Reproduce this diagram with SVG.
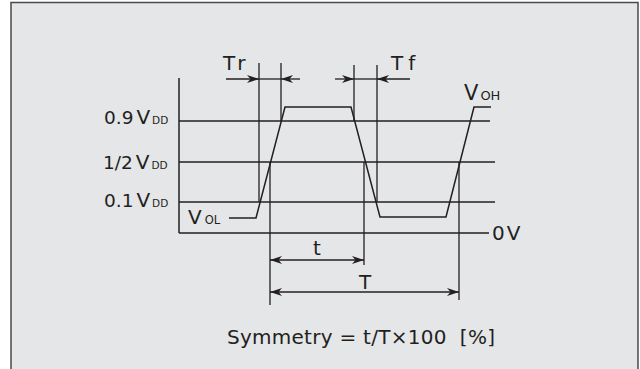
<svg xmlns="http://www.w3.org/2000/svg" width="640" height="369" viewBox="0 0 640 369">
<style>
.ln{stroke:#231f20;stroke-width:1.3;fill:none}
.ax{stroke:#231f20;stroke-width:1.5;fill:none}
.tx{font-family:"DejaVu Sans","Liberation Sans",sans-serif;fill:#231f20}
.big{font-size:20px}
.sub{font-size:10.5px}
</style>
<defs>
<marker id="ah" viewBox="0 0 12 8" refX="12" refY="4" markerWidth="12" markerHeight="8" markerUnits="userSpaceOnUse" orient="auto-start-reverse">
<path d="M0,0 L12,4 L0,8 L3.5,4 z" fill="#231f20"/>
</marker>
</defs>
<rect x="0" y="0" width="640" height="369" fill="#ffffff"/>
<rect x="11" y="2.5" width="627" height="380" fill="#e5e6e8" stroke="#4a4a4a" stroke-width="1.5"/>

<g id="axes">
<line class="ax" x1="179" y1="78" x2="179" y2="233"/>
<line class="ln" x1="179" y1="233" x2="489" y2="233"/>
<line class="ln" x1="179" y1="121" x2="490" y2="121"/>
<line class="ln" x1="179" y1="162" x2="495" y2="162"/>
<line class="ln" x1="179" y1="202" x2="495" y2="202"/>
</g>

<g id="waveform">
<polyline class="ax" points="229,218 256,218 285,107 351,107 380,217 446,217 474,107 491,107"/>
</g>

<g id="connectors">
<line class="ln" x1="259" y1="63" x2="259" y2="202"/>
<line class="ln" x1="281" y1="63" x2="281" y2="121"/>
<line class="ln" x1="354" y1="65" x2="354" y2="121"/>
<line class="ln" x1="377" y1="65" x2="377" y2="202"/>
<line class="ln" x1="270" y1="162" x2="270" y2="305"/>
<line class="ln" x1="364" y1="162" x2="364" y2="265"/>
<line class="ln" x1="459" y1="162" x2="459" y2="300"/>
<line class="ln" x1="226" y1="79" x2="259" y2="79" marker-end="url(#ah)"/>
<line class="ln" x1="259" y1="79" x2="281" y2="79"/>
<line class="ln" x1="300" y1="79" x2="281" y2="79" marker-end="url(#ah)"/>
<line class="ln" x1="335" y1="79" x2="354" y2="79" marker-end="url(#ah)"/>
<line class="ln" x1="354" y1="79" x2="377" y2="79"/>
<line class="ln" x1="410" y1="79" x2="377" y2="79" marker-end="url(#ah)"/>
<line class="ln" x1="270" y1="260" x2="364" y2="260" marker-start="url(#ah)" marker-end="url(#ah)"/>
<line class="ln" x1="270" y1="292" x2="459" y2="292" marker-start="url(#ah)" marker-end="url(#ah)"/>
</g>

<g id="labels">
<text class="tx big" x="223" y="70" letter-spacing="5">Tr</text>
<text class="tx big" x="391" y="70" letter-spacing="5">Tf</text>
<text class="tx" x="464" y="100"><tspan font-size="21">V</tspan><tspan font-size="13" dx="2">OH</tspan></text>
<text class="tx" x="188" y="224"><tspan font-size="20">V</tspan><tspan font-size="11.5" dx="3">OL</tspan></text>
<text class="tx" x="492" y="240" font-size="20" letter-spacing="2">0V</text>
<text class="tx" x="104" y="124"><tspan font-size="18.5">0.9</tspan><tspan font-size="20" dx="3">V</tspan><tspan class="sub" dx="2">DD</tspan></text>
<text class="tx" x="103" y="169"><tspan font-size="18.5">1/2</tspan><tspan font-size="20" dx="3">V</tspan><tspan class="sub" dx="2">DD</tspan></text>
<text class="tx" x="104" y="207"><tspan font-size="18.5">0.1</tspan><tspan font-size="20" dx="3">V</tspan><tspan class="sub" dx="2">DD</tspan></text>
<text class="tx big" x="313" y="255">t</text>
<text class="tx big" x="359" y="289">T</text>
<text class="tx" x="227" y="344" font-size="20" xml:space="preserve" textLength="268" lengthAdjust="spacing">Symmetry = t/T×100  [%]</text>
</g>
</svg>
